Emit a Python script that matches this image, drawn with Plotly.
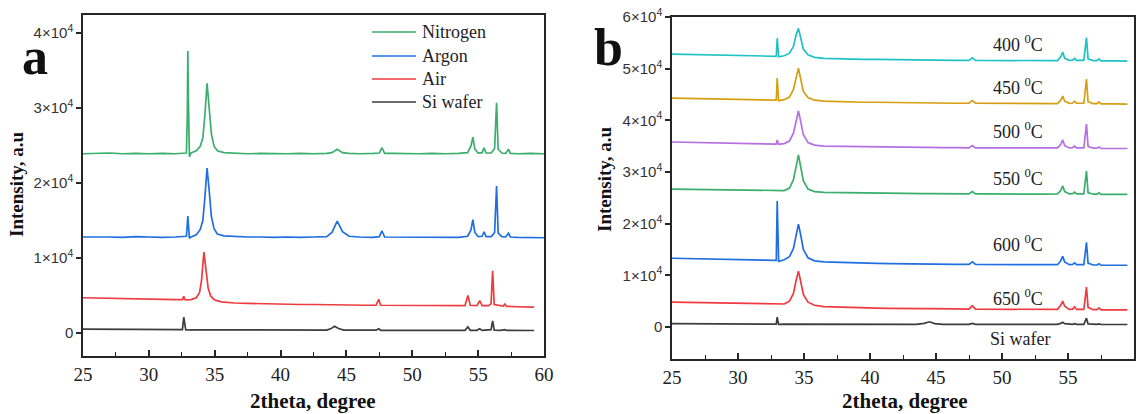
import plotly.graph_objects as go

# ---------------- Panel a data ----------------
XA1 = [25.0, 26.0, 27.0, 28.0, 29.0, 30.0, 31.0, 32.0,
       32.85, 32.92, 32.96, 33.0, 33.04, 33.08,
       33.2, 33.6, 33.9, 34.1, 34.25, 34.42, 34.58, 34.75, 34.95, 35.2, 35.7,
       36.5, 37.5, 38.5, 39.5, 40.5, 41.5, 42.5, 43.5,
       43.9, 44.3, 44.7, 45.2, 46.0, 47.0, 47.5, 47.7, 47.9,
       48.5, 49.5, 50.5, 51.5, 52.5, 53.5,
       54.2, 54.45, 54.6, 54.75, 55.0, 55.3, 55.45, 55.6,
       56.0, 56.25, 56.4, 56.52, 56.8, 57.1, 57.3, 57.45,
       58.0, 59.0, 60.0]

NITROGEN = [23900, 23950, 24000, 23900, 23950, 23900, 23950, 23900,
            24000, 29000, 37600, 31300, 24500, 23500,
            24000, 24300, 24900, 26000, 29000, 33300, 30000, 26500, 24900, 24300, 24050,
            23950, 23900, 23950, 23900, 23900, 23950, 23900, 23950,
            24050, 24500, 24050, 23950, 23900, 23950, 24000, 24700, 23950,
            23950, 23900, 23900, 23950, 23900, 23950,
            24050, 24900, 26100, 24500, 24000, 24050, 24700, 24000,
            24000, 24600, 30700, 24500, 24000, 23950, 24500, 23950,
            23900, 23950, 23900]

ARGON = [12800, 12850, 12800, 12750, 12850, 12800, 12750, 12800,
         12900, 14500, 15600, 14600, 13200, 12600,
         12800, 13100, 13800, 15000, 18000, 22000, 19000, 15500, 13900, 13200, 12950,
         12850, 12800, 12800, 12750, 12800, 12750, 12800, 12850,
         13400, 14900, 13500, 12900, 12800, 12750, 12850, 13600, 12800,
         12800, 12750, 12800, 12750, 12800, 12750,
         12900, 13700, 15100, 13400, 12850, 12900, 13500, 12850,
         12850, 13400, 19600, 13300, 12850, 12800, 13300, 12800,
         12750, 12750, 12700]

XA2 = [25.0, 26.0, 27.0, 28.0, 29.0, 30.0, 31.0, 32.0,
       32.55, 32.65, 32.72, 32.8,
       33.2, 33.6, 33.85, 34.0, 34.18, 34.35, 34.5, 34.7, 35.0, 35.5,
       36.5, 37.5, 38.5, 39.5, 40.5, 41.5, 42.5, 43.5,
       43.8, 44.1, 44.4, 44.8, 45.5, 46.5,
       47.25, 47.45, 47.6,
       48.5, 49.5, 50.5, 51.5, 52.5, 53.5,
       54.0, 54.22, 54.4, 54.9, 55.12, 55.3,
       55.8, 55.98, 56.1, 56.22, 56.7,
       56.9, 57.02, 57.15, 58.0, 59.25]

AIR = [4700, 4650, 4650, 4600, 4550, 4550, 4500, 4450,
       4450, 4900, 4500, 4400,
       4450, 4700, 5400, 7000, 10800, 8300, 6000, 4900, 4400, 4150,
       4000, 3950, 3900, 3850, 3800, 3800, 3800, 3750,
       3750, 3800, 3750, 3750, 3750, 3700,
       3700, 4500, 3700,
       3700, 3650, 3650, 3650, 3600, 3600,
       3650, 5000, 3700, 3650, 4300, 3650,
       3650, 3900, 8300, 3800, 3600,
       3600, 3850, 3550, 3500, 3450]

SI_A = [520, 500, 500, 480, 480, 470, 460, 450,
        450, 2100, 1200, 400,
        430, 430, 420, 420, 420, 420, 420, 410, 410, 400,
        400, 390, 380, 380, 370, 370, 370, 380,
        550, 900, 600, 380, 370, 370,
        370, 550, 360,
        360, 360, 350, 350, 350, 350,
        360, 800, 360, 350, 550, 350,
        350, 450, 1600, 380, 350,
        350, 450, 340, 330, 330]

# ---------------- Panel b data ----------------
XB = [25.0, 26.0, 27.0, 28.0, 29.0, 30.0, 31.0, 32.0,
      32.9, 32.97, 33.02, 33.08,
      33.5, 33.9, 34.2, 34.4, 34.58, 34.75, 34.95, 35.3, 35.8,
      36.5, 37.5, 38.5, 39.5, 40.5, 41.5, 42.5, 43.5,
      44.1, 44.5, 44.9, 45.5, 46.5, 47.5, 47.75, 48.0,
      49.0, 50.0, 51.0, 52.0, 53.0,
      54.2, 54.45, 54.6, 54.75, 55.1, 55.35, 55.5, 55.65,
      56.2, 56.4, 56.52, 56.9, 57.2, 57.35, 57.5, 58.5, 59.5]

T400 = [52800, 52750, 52700, 52650, 52600, 52550, 52500, 52450,
        52400, 55900, 54400, 52300,
        52500, 53000, 54300, 56500, 57800, 55800, 53800, 52700, 52200,
        52000, 51900, 51850, 51800, 51800, 51750, 51700, 51700,
        51700, 51700, 51650, 51650, 51600, 51600, 52100, 51600,
        51600, 51550, 51550, 51550, 51500,
        51550, 52300, 53200, 52000, 51600, 51650, 52000, 51600,
        51600, 56000, 51900, 51550, 51550, 51900, 51500, 51500, 51450]

T450 = [44300, 44250, 44200, 44150, 44100, 44050, 44000, 43950,
        43900, 48200, 46000, 43800,
        44000, 44500, 46000, 48500, 50100, 48000, 45600, 44400, 43900,
        43700, 43600, 43550, 43500, 43500, 43450, 43400, 43400,
        43400, 43400, 43350, 43350, 43300, 43300, 43800, 43300,
        43300, 43250, 43250, 43250, 43200,
        43250, 43900, 44700, 43700, 43300, 43350, 43700, 43300,
        43300, 48000, 43600, 43250, 43250, 43550, 43200, 43200, 43150]

T500 = [35800, 35750, 35700, 35650, 35600, 35550, 35500, 35450,
        35400, 36200, 35700, 35350,
        35500, 36000, 37500, 40000, 41800, 39800, 37200, 35700, 35200,
        35000, 34950, 34900, 34850, 34850, 34800, 34800, 34750,
        34750, 34750, 34700, 34700, 34700, 34650, 35100, 34650,
        34650, 34650, 34600, 34600, 34600,
        34650, 35300, 36200, 35100, 34650, 34700, 35000, 34650,
        34650, 39300, 34950, 34600, 34600, 34850, 34550, 34550, 34550]

T550 = [26700, 26650, 26600, 26550, 26500, 26450, 26400, 26350,
        26300, 26300, 26300, 26300,
        26400, 26900, 28500, 31000, 33300, 31000, 28300, 26700, 26200,
        26050, 26000, 25950, 25900, 25900, 25850, 25850, 25800,
        25800, 25800, 25800, 25750, 25750, 25750, 26200, 25750,
        25750, 25700, 25700, 25700, 25700,
        25750, 26400, 27300, 26200, 25750, 25800, 26100, 25750,
        25750, 30200, 26000, 25700, 25700, 25950, 25650, 25650, 25650]

T600 = [13300, 13250, 13200, 13150, 13100, 13050, 13000, 12950,
        12900, 24400, 20300, 12700,
        13000, 13600, 15200, 18000, 19900, 17800, 15000, 13400, 12800,
        12600, 12500, 12400, 12350, 12300, 12250, 12200, 12200,
        12150, 12150, 12150, 12100, 12100, 12100, 12600, 12100,
        12100, 12050, 12050, 12050, 12000,
        12050, 12800, 13700, 12600, 12050, 12100, 12400, 12050,
        12050, 16400, 12350, 12000, 12000, 12250, 11950, 11950, 11950]

T650 = [4800, 4750, 4650, 4600, 4550, 4500, 4450, 4400,
        4350, 4350, 4350, 4350,
        4450, 5000, 6500, 9000, 10800, 8800, 6300, 4800, 4200,
        3950, 3850, 3750, 3700, 3650, 3600, 3600, 3550,
        3550, 3550, 3500, 3500, 3500, 3450, 4100, 3450,
        3450, 3400, 3400, 3400, 3400,
        3400, 4200, 5000, 4000, 3400, 3450, 3900, 3400,
        3400, 7700, 3800, 3350, 3350, 3700, 3300, 3300, 3300]

SI_B = [650, 620, 600, 600, 590, 580, 570, 560,
        560, 1900, 1200, 520,
        560, 560, 550, 550, 550, 550, 550, 540, 540,
        530, 530, 520, 520, 520, 510, 510, 520,
        700, 1000, 650, 520, 510, 500, 700, 500,
        500, 500, 500, 500, 500,
        510, 700, 900, 650, 500, 510, 650, 500,
        500, 1700, 600, 490, 490, 600, 480, 480, 480]

LEGEND_A = ["Nitrogen", "Argon", "Air", "Si wafer"]
TEMP_LABELS = ["400 <sup>0</sup>C", "450 <sup>0</sup>C", "500 <sup>0</sup>C",
               "550 <sup>0</sup>C", "600 <sup>0</sup>C", "650 <sup>0</sup>C", "Si wafer"]
Y_TICKS_A = [0, 10000, 20000, 30000, 40000]
Y_TICKTEXT_A = ["0", "1×10<sup>4</sup>", "2×10<sup>4</sup>", "3×10<sup>4</sup>", "4×10<sup>4</sup>"]
Y_TICKS_B = [0, 10000, 20000, 30000, 40000, 50000, 60000]
Y_TICKTEXT_B = ["0", "1×10<sup>4</sup>", "2×10<sup>4</sup>", "3×10<sup>4</sup>",
                "4×10<sup>4</sup>", "5×10<sup>4</sup>", "6×10<sup>4</sup>"]
X_TICKS = [25, 30, 35, 40, 45, 50, 55, 60]

GREEN = "#3aae6c"
BLUE = "#1f6fe0"
RED = "#ee3b3f"
GRAY = "#3c3c3c"
CYAN = "#20c2c6"
GOLD = "#d69e10"
PURPLE = "#b46fe2"

SERIF = "Liberation Serif, Times New Roman, serif"
SANS = "Liberation Sans, Arial, sans-serif"

fig = go.Figure()

series_a = [(XA1, NITROGEN, GREEN), (XA1, ARGON, BLUE), (XA2, AIR, RED), (XA2, SI_A, GRAY)]
for name, (xs, ys, c) in zip(LEGEND_A, series_a):
    fig.add_trace(go.Scatter(x=xs, y=ys, mode="lines", name=name,
                             line=dict(color=c, width=1.7), xaxis="x", yaxis="y",
                             showlegend=False))

series_b = [(T400, CYAN), (T450, GOLD), (T500, PURPLE), (T550, GREEN),
            (T600, BLUE), (T650, RED), (SI_B, GRAY)]
for lab, (ys, c) in zip(TEMP_LABELS, series_b):
    fig.add_trace(go.Scatter(x=XB, y=ys, mode="lines", name=lab,
                             line=dict(color=c, width=1.7), xaxis="x2", yaxis="y2",
                             showlegend=False))

W, H = 1143, 414
def px(xp):
    return xp / W
def py(yp):
    return 1 - yp / H

axis_common = dict(showline=True, mirror=True, linecolor="#262626", linewidth=1.5,
                   showgrid=False, zeroline=False, automargin=False)

fig.update_layout(
    width=W, height=H, margin=dict(l=0, r=0, t=0, b=0, autoexpand=False),
    paper_bgcolor="white", plot_bgcolor="white", showlegend=False,
    xaxis=dict(domain=[px(83), px(544)], range=[25, 60], tickvals=X_TICKS,
               ticks="inside", ticklen=6, tickwidth=1.5, tickcolor="#262626",
               minor=dict(ticks="inside", dtick=2.5, ticklen=4, tickwidth=1.2, tickcolor="#262626"),
               tickfont=dict(family=SERIF, size=19, color="#222"), anchor="y", **axis_common),
    yaxis=dict(domain=[py(356), py(15)], range=[-3070, 42400], tickvals=Y_TICKS_A,
               ticktext=Y_TICKTEXT_A, ticks="outside", ticklen=5, tickwidth=1.5,
               tickcolor="#262626", tickfont=dict(family=SANS, size=15, color="#333"),
               anchor="x", **axis_common),
    xaxis2=dict(domain=[px(672), px(1134)], range=[25, 60], tickvals=X_TICKS,
                ticks="inside", ticklen=6, tickwidth=1.5, tickcolor="#262626",
                minor=dict(ticks="inside", dtick=2.5, ticklen=4, tickwidth=1.2, tickcolor="#262626"),
                tickfont=dict(family=SERIF, size=19, color="#222"), anchor="y2", **axis_common),
    yaxis2=dict(domain=[py(359), py(17)], range=[-6200, 60000], tickvals=Y_TICKS_B,
                ticktext=Y_TICKTEXT_B, ticks="outside", ticklen=5, tickwidth=1.5,
                tickcolor="#262626", tickfont=dict(family=SANS, size=15, color="#333"),
                anchor="x2", **axis_common),
)

ann = []
# axis titles
ann.append(dict(text="<b>2theta, degree</b>", x=px(313), y=py(401), xref="paper", yref="paper",
                showarrow=False, font=dict(family=SERIF, size=21, color="#111"),
                xanchor="center", yanchor="middle"))
ann.append(dict(text="<b>2theta, degree</b>", x=px(905), y=py(401), xref="paper", yref="paper",
                showarrow=False, font=dict(family=SERIF, size=21, color="#111"),
                xanchor="center", yanchor="middle"))
ann.append(dict(text="<b>Intensity, a.u</b>", x=px(16), y=py(185), xref="paper", yref="paper",
                showarrow=False, textangle=-90, font=dict(family=SERIF, size=19, color="#111"),
                xanchor="center", yanchor="middle"))
ann.append(dict(text="<b>Intensity, a.u</b>", x=px(605), y=py(180), xref="paper", yref="paper",
                showarrow=False, textangle=-90, font=dict(family=SERIF, size=19, color="#111"),
                xanchor="center", yanchor="middle"))
# panel letters
ann.append(dict(text="<b>a</b>", x=px(35), y=py(57), xref="paper", yref="paper",
                showarrow=False, font=dict(family=SERIF, size=52, color="#111"),
                xanchor="center", yanchor="middle"))
ann.append(dict(text="<b>b</b>", x=px(608), y=py(48), xref="paper", yref="paper",
                showarrow=False, font=dict(family=SERIF, size=52, color="#111"),
                xanchor="center", yanchor="middle"))

# legend for panel a (drawn manually)
shapes = []
leg_rows = [32, 56, 79, 102]
leg_colors = [GREEN, BLUE, RED, GRAY]
for lab, yr, c in zip(LEGEND_A, leg_rows, leg_colors):
    shapes.append(dict(type="line", xref="paper", yref="paper", x0=px(372), x1=px(416),
                       y0=py(yr), y1=py(yr), line=dict(color=c, width=1.5)))
    ann.append(dict(text=lab, x=px(420), y=py(yr), xref="paper", yref="paper",
                    showarrow=False, font=dict(family=SERIF, size=18, color="#222"),
                    xanchor="left", yanchor="middle"))

# temperature labels for panel b
temp_pos = [(51.2, 54900), (51.2, 46600), (51.2, 38100), (51.2, 29000),
            (51.2, 16100), (51.2, 5800), (51.4, -2300)]
for lab, (xv, yv) in zip(TEMP_LABELS, temp_pos):
    ann.append(dict(text=lab, x=xv, y=yv, xref="x2", yref="y2", showarrow=False,
                    font=dict(family=SERIF, size=18, color="#222"),
                    xanchor="center", yanchor="middle"))

fig.update_layout(annotations=ann, shapes=shapes)
fig.write_html("out.html")
